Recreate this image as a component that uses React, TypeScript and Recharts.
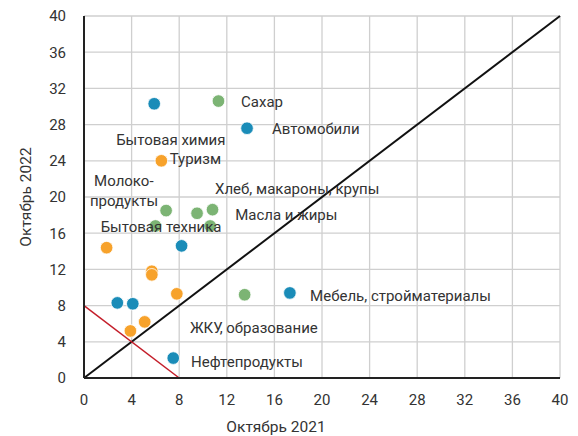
import React from "react";
import {
  ScatterChart,
  Scatter,
  XAxis,
  YAxis,
  CartesianGrid,
  ReferenceLine,
  ReferenceDot,
} from "recharts";

const ticks = [0, 4, 8, 12, 16, 20, 24, 28, 32, 36, 40];

const bluePoints = [
  { x: 5.9, y: 30.3 },
  { x: 13.7, y: 27.6 },
  { x: 8.2, y: 14.6 },
  { x: 17.3, y: 9.4 },
  { x: 2.8, y: 8.3 },
  { x: 4.1, y: 8.2 },
  { x: 7.5, y: 2.2 },
];

const orangePoints = [
  { x: 6.5, y: 24.0 },
  { x: 1.9, y: 14.4 },
  { x: 5.7, y: 11.8 },
  { x: 5.7, y: 11.4 },
  { x: 7.8, y: 9.3 },
  { x: 5.1, y: 6.2 },
  { x: 3.9, y: 5.2 },
];

const greenPoints = [
  { x: 11.3, y: 30.6 },
  { x: 6.9, y: 18.5 },
  { x: 9.5, y: 18.2 },
  { x: 10.8, y: 18.6 },
  { x: 6.0, y: 16.8 },
  { x: 10.6, y: 16.8 },
  { x: 13.5, y: 9.2 },
];

// label anchor points (left edge, vertical middle of text)
const labels = [
  { x: 13.2, y: 30.5, text: "Сахар" },
  { x: 15.8, y: 27.5, text: "Автомобили" },
  { x: 2.7, y: 26.3, text: "Бытовая химия" },
  { x: 7.2, y: 24.2, text: "Туризм" },
  { x: 0.85, y: 21.8, text: "Молоко-" },
  { x: 0.5, y: 19.6, text: "продукты" },
  { x: 11.0, y: 20.9, text: "Хлеб, макароны, крупы" },
  { x: 12.7, y: 18.0, text: "Масла и жиры" },
  { x: 1.4, y: 16.7, text: "Бытовая техника" },
  { x: 19.0, y: 9.1, text: "Мебель, стройматериалы" },
  { x: 8.9, y: 5.5, text: "ЖКУ, образование" },
  { x: 9.0, y: 1.8, text: "Нефтепродукты" },
];

const font = "Roboto, 'Noto Sans', sans-serif";

const Dot = (props: any) => {
  const { cx, cy, fill } = props;
  return <circle cx={cx} cy={cy} r={6.3} fill={fill} stroke="#fff" strokeWidth={0.8} />;
};

const LabelText = (text: string) => (props: any) => {
  const { viewBox } = props;
  return (
    <text
      x={viewBox.x}
      y={viewBox.y}
      dy="0.35em"
      fontSize={15}
      fill="#333"
      fontFamily={font}
    >
      {text}
    </text>
  );
};

export default function App() {
  return (
    <div style={{ position: "absolute", left: 0, top: 0, background: "#fff" }}>
      <ScatterChart
        width={578}
        height={436}
        margin={{ top: 16, right: 18, bottom: 0, left: 0 }}
      >
        <CartesianGrid stroke="#cfcfcf" strokeWidth={1.3} />
        <XAxis
          type="number"
          dataKey="x"
          domain={[0, 40]}
          ticks={ticks}
          height={58}
          tickLine={false}
          axisLine={{ stroke: "#222", strokeWidth: 2 }}
          tick={{ fill: "#333", fontSize: 15, fontFamily: font }}
          tickMargin={10}
          label={{
            value: "Октябрь 2021",
            position: "insideBottom",
            offset: 4,
            dx: -46,
            fill: "#333",
            fontSize: 15.5,
            fontFamily: font,
          }}
        />
        <YAxis
          type="number"
          dataKey="y"
          domain={[0, 40]}
          ticks={ticks}
          width={84}
          tickLine={false}
          axisLine={{ stroke: "#222", strokeWidth: 2 }}
          tick={{ fill: "#333", fontSize: 15, fontFamily: font }}
          tickMargin={12}
          label={{
            value: "Октябрь 2022",
            angle: -90,
            position: "insideLeft",
            offset: 25,
            style: { textAnchor: "middle" },
            fill: "#333",
            fontSize: 15.5,
            fontFamily: font,
          }}
        />
        <ReferenceLine
          segment={[{ x: 0, y: 0 }, { x: 40, y: 40 }]}
          stroke="#111"
          strokeWidth={2}
        />
        <ReferenceLine
          segment={[{ x: 0, y: 8 }, { x: 8, y: 0 }]}
          stroke="#c41e2a"
          strokeWidth={1.5}
        />
        <Scatter data={greenPoints} fill="#7cb474" shape={<Dot />} isAnimationActive={false} />
        <Scatter data={orangePoints} fill="#f7a22b" shape={<Dot />} isAnimationActive={false} />
        <Scatter data={bluePoints} fill="#1a8cb8" shape={<Dot />} isAnimationActive={false} />
        {labels.map((l) => (
          <ReferenceDot
            key={l.text}
            x={l.x}
            y={l.y}
            r={0}
            stroke="none"
            fill="none"
            label={LabelText(l.text)}
          />
        ))}
      </ScatterChart>
    </div>
  );
}
